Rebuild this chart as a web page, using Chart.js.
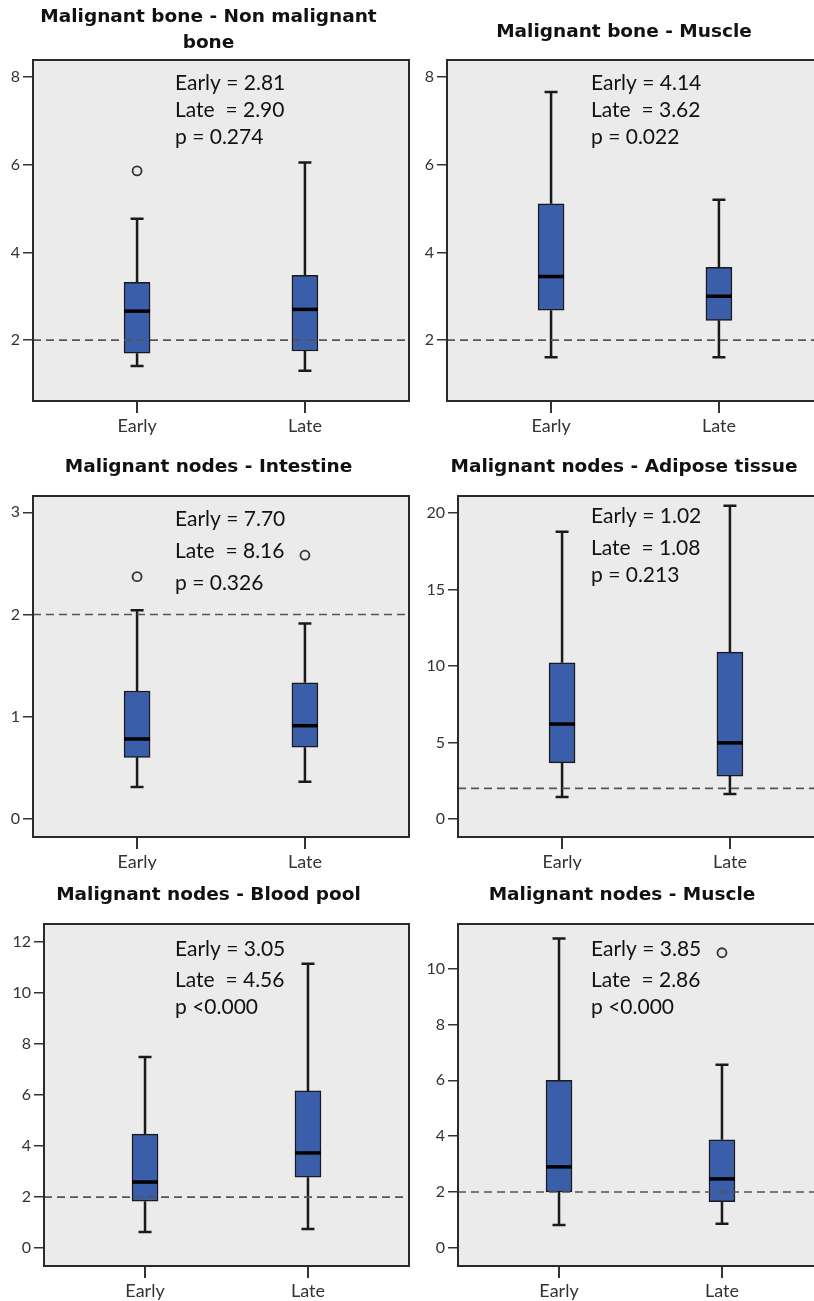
<!DOCTYPE html>
<html>
<head>
<meta charset="utf-8">
<script src="https://cdn.jsdelivr.net/npm/chart.js@4.4.1/dist/chart.umd.min.js"></script>
<style>
  html, body { margin: 0; padding: 0; background: #fff; }
  #page { position: relative; width: 814px; height: 1301px; overflow: hidden; }
  #page canvas { position: absolute; }
</style>
</head>
<body>
<div id="page"></div>
<script>
// ---- data ----
const groups = ['Early', 'Late'];

const titles = [
  ['Malignant bone - Non malignant', 'bone'],
  'Malignant bone - Muscle',
  'Malignant nodes - Intestine',
  'Malignant nodes - Adipose tissue',
  'Malignant nodes - Blood pool',
  'Malignant nodes - Muscle'
];

// box stats per panel, [Early, Late]
const lowWhisker  = [[1.41, 1.30], [1.61, 1.61], [0.31, 0.36], [1.44, 1.63], [0.63, 0.75], [0.82, 0.86]];
const q1          = [[1.70, 1.75], [2.68, 2.45], [0.60, 0.70], [3.66, 2.80], [1.84, 2.78], [2.00, 1.65]];
const median      = [[2.66, 2.70], [3.45, 3.00], [0.78, 0.91], [6.20, 4.97], [2.59, 3.73], [2.90, 2.47]];
const q3          = [[3.32, 3.48], [5.11, 3.66], [1.25, 1.33], [10.2, 10.9], [4.47, 6.16], [6.00, 3.87]];
const highWhisker = [[4.77, 6.05], [7.66, 5.20], [2.04, 1.91], [18.76, 20.46], [7.49, 11.14], [11.08, 6.56]];
const outliers    = [[[5.86], []], [[], []], [[2.37], [2.58]], [[], []], [[], []], [[], [10.57]]];

const notes = [
  ['Early = 2.81', 'Late  = 2.90', 'p = 0.274'],
  ['Early = 4.14', 'Late  = 3.62', 'p = 0.022'],
  ['Early = 7.70', 'Late  = 8.16', 'p = 0.326'],
  ['Early = 1.02', 'Late  = 1.08', 'p = 0.213'],
  ['Early = 3.05', 'Late  = 4.56', 'p <0.000'],
  ['Early = 3.85', 'Late  = 2.86', 'p <0.000']
];

const yTicks = [[2, 4, 6, 8], [2, 4, 6, 8], [0, 1, 2, 3], [0, 5, 10, 15, 20], [0, 2, 4, 6, 8, 10, 12], [0, 2, 4, 6, 8, 10]];
const yMin = [0.61, 0.61, -0.18, -1.18, -0.7, -0.65];
const yMax = [8.39, 8.39, 3.16, 21.1, 12.7, 11.6];
const refLine = 2;

// ---- layout (pixels) ----
const panelLayout = [
  {left: 0,   top: 0,   width: 410, height: 440, padL: 8,  axisW: 25, xAxisH: 39, tPad: {top: 4,  bottom: 4},  noteX: 175, noteY: [23, 50, 77]},
  {left: 412, top: 0,   width: 412, height: 440, padL: 13, axisW: 22, xAxisH: 39, tPad: {top: 19, bottom: 15}, noteX: 179, noteY: [23, 50, 77]},
  {left: 0,   top: 440, width: 410, height: 430, padL: 8,  axisW: 25, xAxisH: 33, tPad: {top: 14, bottom: 16}, noteX: 175, noteY: [23, 55, 87]},
  {left: 412, top: 440, width: 423, height: 430, padL: 2,  axisW: 44, xAxisH: 33, tPad: {top: 14, bottom: 16}, noteX: 179, noteY: [20, 52, 79]},
  {left: 0,   top: 870, width: 410, height: 431, padL: 8,  axisW: 36, xAxisH: 35, tPad: {top: 12, bottom: 16}, noteX: 175, noteY: [25, 56, 83]},
  {left: 412, top: 870, width: 412, height: 431, padL: 9,  axisW: 37, xAxisH: 35, tPad: {top: 12, bottom: 16}, noteX: 179, noteY: [25, 56, 83]}
];

const boxBlue = '#3B5EAB';
const ink = '#1a1a1a';

// grey panel background + frame
const framePlugin = {
  id: 'frame',
  beforeDraw(chart) {
    const {ctx, chartArea: a} = chart;
    ctx.save();
    ctx.fillStyle = '#EBEBEB';
    ctx.fillRect(a.left, a.top, a.right - a.left, a.bottom - a.top);
    ctx.restore();
  },
  afterDraw(chart) {
    const {ctx, chartArea: a} = chart;
    ctx.save();
    ctx.strokeStyle = '#2a2a2a';
    ctx.lineWidth = 2;
    ctx.strokeRect(a.left, a.top, a.right - a.left, a.bottom - a.top);
    ctx.restore();
  }
};

// whiskers, caps, medians and the dashed reference line
const boxLines = {
  id: 'boxLines',
  beforeDatasetsDraw(chart, args, opts) {
    const {ctx, scales: {x, y}} = chart;
    const p = opts.panel;
    ctx.save();
    ctx.strokeStyle = ink;
    ctx.lineWidth = 2.5;
    groups.forEach((g, i) => {
      const px = x.getPixelForValue(i + 1);
      const lo = y.getPixelForValue(lowWhisker[p][i]);
      const hi = y.getPixelForValue(highWhisker[p][i]);
      ctx.beginPath();
      ctx.moveTo(px, lo);
      ctx.lineTo(px, y.getPixelForValue(q1[p][i]));
      ctx.moveTo(px, y.getPixelForValue(q3[p][i]));
      ctx.lineTo(px, hi);
      ctx.moveTo(px - 6.5, lo); ctx.lineTo(px + 6.5, lo);
      ctx.moveTo(px - 6.5, hi); ctx.lineTo(px + 6.5, hi);
      ctx.stroke();
    });
    ctx.restore();
  },
  afterDatasetsDraw(chart, args, opts) {
    const {ctx, chartArea: a, scales: {y}} = chart;
    const p = opts.panel;
    const bars = chart.getDatasetMeta(0).data;
    ctx.save();
    ctx.strokeStyle = '#000';
    ctx.lineWidth = 3.5;
    bars.forEach((bar, i) => {
      const py = y.getPixelForValue(median[p][i]);
      ctx.beginPath();
      ctx.moveTo(bar.x - bar.width / 2, py);
      ctx.lineTo(bar.x + bar.width / 2, py);
      ctx.stroke();
    });
    const ry = y.getPixelForValue(refLine);
    ctx.strokeStyle = '#555';
    ctx.lineWidth = 1.6;
    ctx.setLineDash([8, 5]);
    ctx.beginPath();
    ctx.moveTo(a.left, ry);
    ctx.lineTo(a.right, ry);
    ctx.stroke();
    ctx.restore();
  }
};

// "Early = ..." text block
const notePlugin = {
  id: 'notes',
  afterDraw(chart, args, opts) {
    const {ctx, chartArea: a} = chart;
    const L = panelLayout[opts.panel];
    ctx.save();
    ctx.font = '21px Lato';
    ctx.fillStyle = '#111';
    ctx.textAlign = 'left';
    ctx.textBaseline = 'middle';
    notes[opts.panel].forEach((t, k) => ctx.fillText(t, L.noteX, a.top + L.noteY[k]));
    ctx.restore();
  }
};

const page = document.getElementById('page');

for (let p = 0; p < 6; p++) {
  const L = panelLayout[p];
  const cv = document.createElement('canvas');
  cv.width = L.width;
  cv.height = L.height;
  cv.style.left = L.left + 'px';
  cv.style.top = L.top + 'px';
  cv.style.width = L.width + 'px';
  cv.style.height = L.height + 'px';
  page.appendChild(cv);

  const outlierPts = [];
  outliers[p].forEach((vals, i) => vals.forEach(v => outlierPts.push({x: i + 1, y: v})));

  new Chart(cv, {
    type: 'bar',
    data: {
      datasets: [
        {
          type: 'bar',
          data: groups.map((g, i) => ({x: i + 1, y: [q1[p][i], q3[p][i]]})),
          backgroundColor: boxBlue,
          borderColor: ink,
          borderWidth: 1.5,
          borderSkipped: false,
          barThickness: 26
        },
        {
          type: 'scatter',
          data: outlierPts,
          pointRadius: 4.5,
          pointBackgroundColor: '#EBEBEB',
          pointBorderColor: '#333',
          pointBorderWidth: 1.8
        }
      ]
    },
    options: {
      responsive: false,
      animation: false,
      events: [],
      layout: {autoPadding: false, padding: {left: L.padL, right: 1, top: 0, bottom: 0}},
      plugins: {
        legend: {display: false},
        tooltip: {enabled: false},
        title: {
          display: true,
          text: titles[p],
          color: '#111',
          font: {family: 'DejaVu Sans', size: 18.5, weight: 'bold', lineHeight: 26 / 18.5},
          padding: L.tPad
        },
        boxLines: {panel: p},
        notes: {panel: p}
      },
      scales: {
        x: {
          type: 'linear',
          offset: false,
          min: 0.38,
          max: 2.62,
          afterBuildTicks: s => { s.ticks = groups.map((g, i) => ({value: i + 1})); },
          afterFit: s => { s.height = L.xAxisH; s.paddingLeft = 0; s.paddingRight = 0; },
          ticks: {
            callback: v => groups[v - 1],
            color: '#333',
            font: {family: 'Lato', size: 18},
            padding: 2,
            maxRotation: 0
          },
          grid: {offset: false, drawOnChartArea: false, drawTicks: true, tickLength: 12, color: '#333', lineWidth: 2},
          border: {display: false}
        },
        y: {
          type: 'linear',
          min: yMin[p],
          max: yMax[p],
          afterBuildTicks: s => { s.ticks = yTicks[p].map(v => ({value: v})); },
          afterFit: s => { s.width = L.axisW; s.paddingTop = 0; s.paddingBottom = 0; },
          ticks: {
            color: '#333',
            font: {family: 'Lato', size: 16},
            padding: 3
          },
          grid: {drawOnChartArea: false, drawTicks: true, tickLength: 10, color: '#333', lineWidth: 1.5},
          border: {display: false}
        }
      }
    },
    plugins: [framePlugin, boxLines, notePlugin]
  });
}
</script>
</body>
</html>
